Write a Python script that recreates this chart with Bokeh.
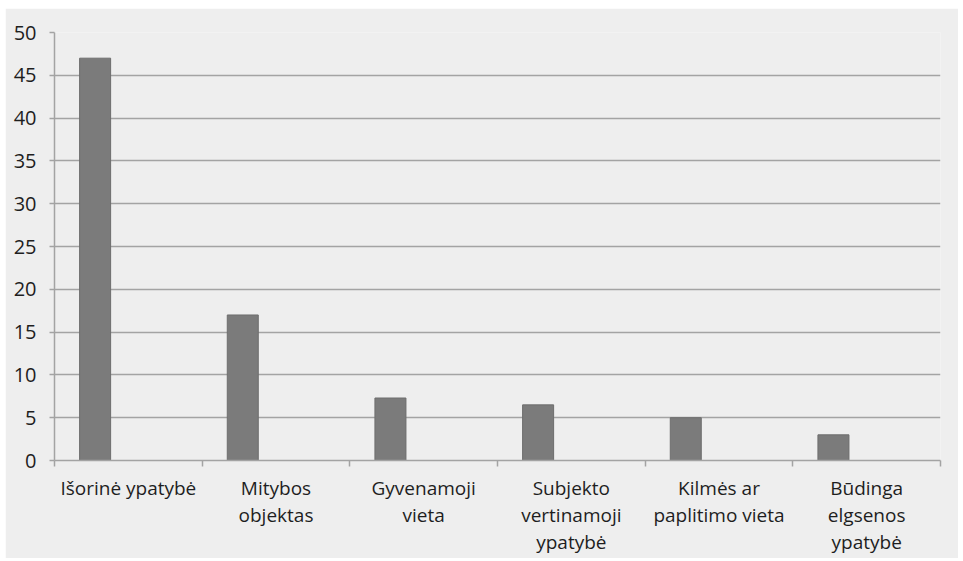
from bokeh.plotting import figure
from bokeh.models import FixedTicker, Range1d, ColumnDataSource
from bokeh.embed import file_html
from bokeh.resources import INLINE

categories = ["Išorinė ypatybė", "Mitybos\nobjektas", "Gyvenamoji\nvieta",
              "Subjekto\nvertinamoji\nypatybė", "Kilmės ar\npaplitimo vieta",
              "Būdinga\nelgsenos\nypatybė"]
values = [47, 17, 7.3, 6.5, 5, 3]
y_ticks = [0, 5, 10, 15, 20, 25, 30, 35, 40, 45, 50]

n = len(categories)
xs = [i + 0.275 for i in range(n)]
src = ColumnDataSource(dict(x=xs, top=values))

p = figure(width=953, height=550, output_backend="svg", toolbar_location=None,
           x_range=Range1d(0, n), y_range=Range1d(0, 50),
           min_border_left=49, min_border_right=18, min_border_top=24, min_border_bottom=94,
           margin=(8, 0, 0, 5))
p.background_fill_color = "#eeeeee"
p.border_fill_color = "#eeeeee"
p.outline_line_color = None

p.vbar(x="x", top="top", width=0.21, bottom=0, source=src,
       fill_color="#7b7b7b", line_color="#6e6e6e", line_width=1)

font = "Open Sans"
p.yaxis.ticker = FixedTicker(ticks=y_ticks)
p.yaxis.axis_line_color = "#a3a3a3"
p.yaxis.axis_line_width = 1.5
p.yaxis.major_tick_line_color = "#a3a3a3"
p.yaxis.major_tick_line_width = 1.5
p.yaxis.major_tick_out = 5
p.yaxis.major_tick_in = 0
p.yaxis.minor_tick_line_color = None
p.yaxis.major_label_text_font = font
p.yaxis.major_label_text_font_size = "20px"
p.yaxis.major_label_text_color = "#1e1e1e"
p.yaxis.major_label_standoff = 13

p.xaxis.ticker = FixedTicker(ticks=[i + 0.5 for i in range(n)], minor_ticks=list(range(n + 1)))
p.xaxis.major_label_overrides = {i + 0.5: c for i, c in enumerate(categories)}
p.xaxis.axis_line_color = "#a3a3a3"
p.xaxis.axis_line_width = 1.5
p.xaxis.major_tick_line_color = None
p.xaxis.major_tick_out = 0
p.xaxis.minor_tick_line_color = "#a3a3a3"
p.xaxis.minor_tick_line_width = 1.5
p.xaxis.minor_tick_out = 6
p.xaxis.minor_tick_in = 0
p.xaxis.major_label_text_font = font
p.xaxis.major_label_text_font_size = "19px"
p.xaxis.major_label_text_line_height = 1.05
p.xaxis.major_label_text_color = "#1e1e1e"
p.xaxis.major_label_standoff = 8

p.xgrid.grid_line_color = None
p.ygrid.ticker = FixedTicker(ticks=y_ticks[1:])
p.ygrid.grid_line_color = "#a3a3a3"
p.ygrid.grid_line_width = 1.5

open("out.html", "w").write(file_html(p, INLINE))
